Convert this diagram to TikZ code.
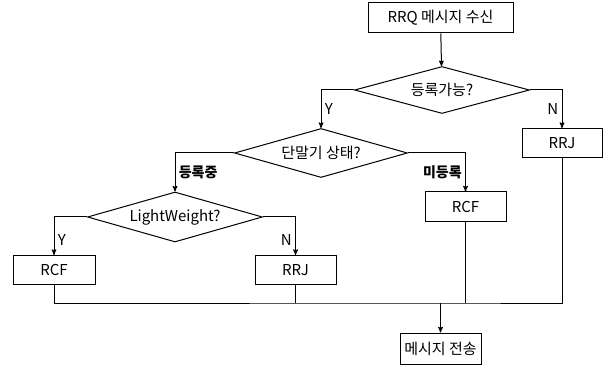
\documentclass[tikz,border=0pt]{standalone}
\usepackage{fontspec}
\setmainfont{Noto Sans CJK KR}
\usetikzlibrary{arrows,shapes,positioning}

\begin{document}
\begin{tikzpicture}[x=1pt,y=-1pt,>=stealth',line width=1pt,
                    font=\fontsize{15}{17}\selectfont,
                    block/.style={rectangle, draw, align=center, minimum height=29pt, inner sep=2pt},
                    test/.style={diamond, draw, align=center, minimum width=175pt, minimum height=47pt, inner sep=0pt, aspect=3.5},
                    branch/.style={font=\fontsize{14}{16}\selectfont\bfseries}]
  \useasboundingbox (0,0) rectangle (608,366);
  % Nodes
  \node[block, minimum width=145pt, minimum height=30pt] (rrq) at (440.5,18) {RRQ 메시지 수신};
  \node[test] (avail) at (442,90) {등록가능?};
  \node[block, minimum width=80pt] (rrjtop) at (562,143) {RRJ};
  \node[test, minimum width=173pt, minimum height=49pt] (state) at (321,153) {단말기 상태?};
  \node[block, minimum width=81pt, minimum height=30pt] (rcfmid) at (465.5,207) {RCF};
  \node[test, minimum height=50pt] (light) at (175,217) {LightWeight?};
  \node[block, minimum width=82pt] (rcfleft) at (54,270) {RCF};
  \node[block, minimum width=81pt] (rrjleft) at (295.5,270) {RRJ};
  \node[block, minimum width=81pt, minimum height=31pt] (send) at (440.5,348.5) {메시지 전송};
  \coordinate (join) at (440.5,303);

  % Edges
  \draw[->] (rrq) -- (avail);
  \draw[->] (avail.west) -| node[pos=0.75, right] {Y} (state.north);
  \draw[->] (avail.east) -| node[pos=0.75, left] {N} (rrjtop.north);
  \draw[->] (state.west) -| node[pos=0.75, right, branch] {등록중} (light.north);
  \draw[->] (state.east) -| node[pos=0.75, left, branch] {미등록} (rcfmid.north);
  \draw[->] (light.west) -| node[pos=0.8, right] {Y} (rcfleft.north);
  \draw[->] (light.east) -| node[pos=0.8, left] {N} (rrjleft.north);

  % Merge
  \draw (rcfleft.south) |- (join) -| (rrjtop.south);
  \draw (rrjleft.south) -- (rrjleft.south |- join);
  \draw (rcfmid.south) -- (rcfmid.south |- join);
  \draw[->] (join) -- (send);
\end{tikzpicture}
\end{document}
